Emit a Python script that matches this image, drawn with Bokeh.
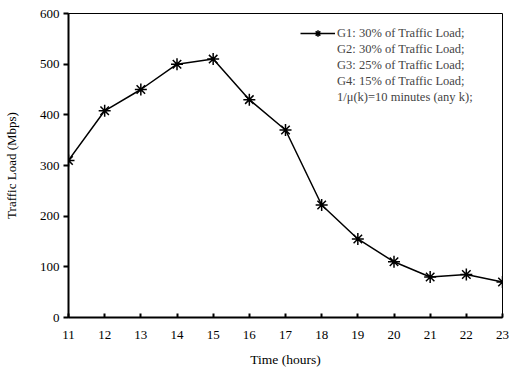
from bokeh.plotting import figure
from bokeh.models import Range1d, Legend, LegendItem, ColumnDataSource, FixedTicker
from bokeh.embed import file_html
from bokeh.resources import INLINE

hours = [11, 12, 13, 14, 15, 16, 17, 18, 19, 20, 21, 22, 23]
load = [310, 408, 450, 500, 510, 430, 370, 222, 155, 110, 80, 85, 70]
legend_lines = [
    "G1: 30% of Traffic Load;",
    "G2: 30% of Traffic Load;",
    "G3: 25% of Traffic Load;",
    "G4: 15% of Traffic Load;",
    "1/\u03bc(k)=10 minutes (any k);",
]
x_ticks = list(range(11, 24))
y_ticks = [0, 100, 200, 300, 400, 500, 600]

FONT = "Liberation Serif"

p = figure(width=509, height=369, output_backend="svg", toolbar_location=None,
           x_range=Range1d(11, 23), y_range=Range1d(0, 600),
           min_border_left=68, min_border_right=7, min_border_top=13, min_border_bottom=52)
p.outline_line_color = "black"
p.outline_line_width = 1
p.xgrid.visible = False
p.ygrid.visible = False

src = ColumnDataSource(dict(x=hours, y=load))
line_r = p.line("x", "y", source=src, line_color="black", line_width=1.5)
mark_r = p.scatter("x", "y", source=src, marker="asterisk", size=12,
                   line_color="black", line_width=1.5)

for ax in (p.xaxis, p.yaxis):
    ax.axis_line_width = 2
    ax.major_tick_line_width = 2
    ax.minor_tick_line_color = None
    ax.major_label_text_font = FONT
    ax.major_label_text_font_size = "13px"
    ax.major_label_text_color = "black"
    ax.axis_label_text_font = FONT
    ax.axis_label_text_font_size = "13px"
    ax.axis_label_text_font_style = "normal"
    ax.axis_label_text_color = "black"

p.xaxis.ticker = FixedTicker(ticks=x_ticks)
p.yaxis.ticker = FixedTicker(ticks=y_ticks)
p.xaxis.major_tick_in = 4
p.xaxis.major_tick_out = 0
p.yaxis.major_tick_in = 0
p.yaxis.major_tick_out = 5
p.xaxis.major_label_standoff = 13
p.yaxis.major_label_standoff = 4
p.xaxis.axis_label = "Time (hours)"
p.yaxis.axis_label = "Traffic Load (Mbps)"
p.xaxis.axis_label_text_font_size = "13.5px"
p.xaxis.axis_label_standoff = 10
p.yaxis.axis_label_standoff = 18

# legend: first entry with the line+marker, remaining entries are text-only
items = [LegendItem(label=legend_lines[0], renderers=[line_r, mark_r])]
for t in legend_lines[1:]:
    d = p.line(x=[], y=[], line_alpha=0)
    items.append(LegendItem(label=t, renderers=[d]))

leg = Legend(items=items, location=(232, 212), padding=0, spacing=0, margin=0,
             label_height=16, glyph_height=16, glyph_width=35, label_standoff=2,
             label_text_font=FONT, label_text_font_size="12.5px",
             border_line_color=None, background_fill_alpha=0)
p.add_layout(leg)

open("out.html", "w").write(file_html(p, INLINE))
